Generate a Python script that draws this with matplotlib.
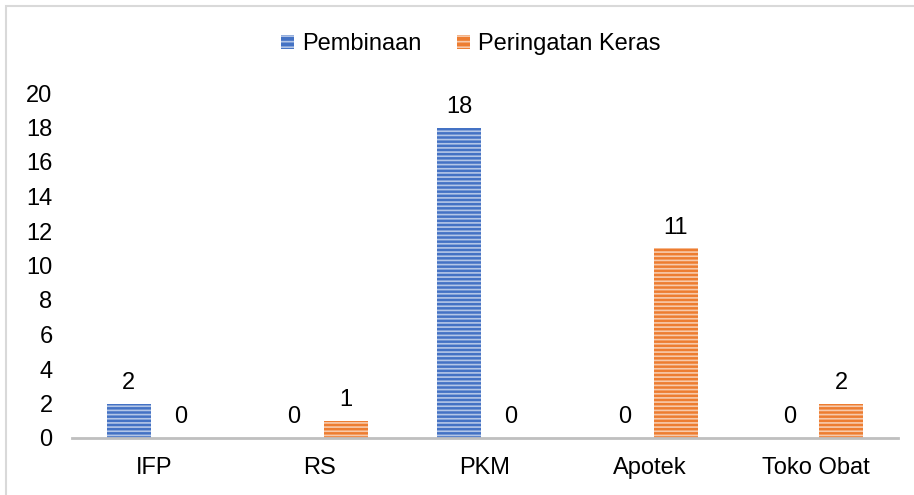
import matplotlib
matplotlib.use("Agg")
import matplotlib.pyplot as plt
from matplotlib.patches import Rectangle
import numpy as np

plt.rcParams['font.family'] = ['Liberation Sans', 'DejaVu Sans']
plt.rcParams['hatch.linewidth'] = 1.2

categories = ["IFP", "RS", "PKM", "Apotek", "Toko Obat"]
pembinaan = [2, 0, 18, 0, 0]
peringatan = [0, 1, 0, 11, 2]
series_names = ["Pembinaan", "Peringatan Keras"]
yticks = [0, 2, 4, 6, 8, 10, 12, 14, 16, 18, 20]

blue = "#4472C4"
orange = "#ED7D31"
hatch_col = (1, 1, 1, 0.6)

fig = plt.figure(figsize=(9.14, 4.95), dpi=100)
fig.patches.append(Rectangle((6/914, -0.1), 1.2, 1 - 6/495 + 0.1, transform=fig.transFigure,
                             fill=False, edgecolor="#D9D9D9", linewidth=1.5, zorder=0))
ax = fig.add_axes([72/914, 57/495, (898-72)/914, (438-93)/495])

x = np.arange(len(categories))
w = 0.266
off = 0.156
fs = 17

handles = []
for vals, col, sgn, name in [(pembinaan, blue, -1, series_names[0]), (peringatan, orange, 1, series_names[1])]:
    pos = x + sgn * off
    ax.bar(pos, vals, w, color=col, edgecolor="none", linewidth=0, zorder=2)
    ax.bar(pos, vals, w, facecolor="none", edgecolor=hatch_col, linewidth=0, hatch="----", zorder=3)
    for p, v in zip(pos, vals):
        ax.annotate(str(v), (p, v), xytext=(0, 7), textcoords="offset points",
                    ha="center", va="bottom", fontsize=fs, color="#000000")
    handles.append(Rectangle((0, 0), 1, 1, facecolor=col, edgecolor=hatch_col, linewidth=0, hatch="---", label=name))

ax.set_xlim(-0.5, len(categories) - 0.5)
ax.set_ylim(0, 20)
ax.set_yticks(yticks)
ax.set_yticklabels([str(t) for t in yticks], fontsize=fs)
ax.set_xticks(x)
ax.set_xticklabels(categories, fontsize=fs)
ax.tick_params(axis="both", length=0)
ax.tick_params(axis="y", pad=14)
ax.tick_params(axis="x", pad=14)
for s in ["top", "right", "left"]:
    ax.spines[s].set_visible(False)
ax.spines["bottom"].set_color("#BFBFBF")
ax.spines["bottom"].set_linewidth(2)
ax.spines["bottom"].set_zorder(4)

fig.legend(handles=handles, loc="center", bbox_to_anchor=(471/914, 1 - 44/495), ncol=2,
           frameon=False, fontsize=fs, handlelength=0.55, handleheight=0.55, handletextpad=0.35,
           columnspacing=1.5)

fig.savefig("out.png", dpi=100)
